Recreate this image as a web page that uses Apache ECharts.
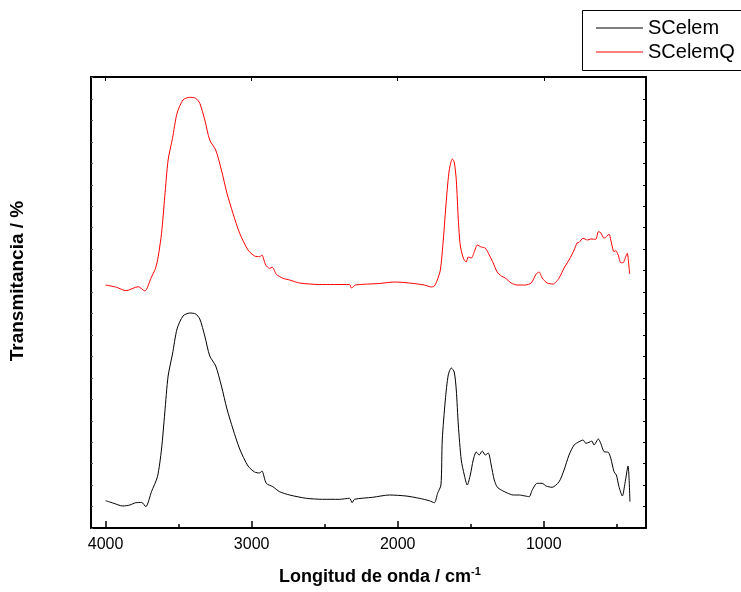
<!DOCTYPE html>
<html><head><meta charset="utf-8">
<script src="https://cdn.jsdelivr.net/npm/echarts@6/dist/echarts.min.js"></script>
<style>html,body{margin:0;padding:0;background:#fff;overflow:hidden}#c{width:741px;height:592px}</style>
</head><body><div id="c"></div>
<script>
const seriesNames = ['SCelem', 'SCelemQ'];
const majorTicks = [1000, 2000, 3000, 4000];
const minorTicks = [500, 1500, 2500, 3500];

const wnBlack = [4000,3950,3882,3834,3793,3752,3725,3686,3645,3617,3595,3572,3542,3511,3470,3424,3383,3355,3321,3287,3246,3207,3169,3128,3082,3025,2980,2945,2930,2900,2855,2809,2740,2626,2515,2399,2330,2312,2296,2171,2057,1943,1852,1784,1749,1727,1704,1695,1674,1654,1633,1613,1599,1585,1565,1544,1524,1503,1483,1462,1442,1421,1401,1380,1360,1339,1319,1291,1250,1209,1168,1127,1100,1079,1045,1011,984,943,895,861,827,792,758,731,712,690,671,656,626,610,587,558,541,519,503,485,462,444,423,410];
const valBlack = [27.3,25,22,23,25.3,25.5,21.3,36.3,51.3,79,115,152,174,199,212,215,214,209,192,172,162,142,119,99,79,62,56,55,57,44.7,41.3,36.3,33,29.7,28.7,28.7,29.7,25.3,28.7,30.7,33,32,29.7,27.3,25.3,34.7,43,88,128,153,160,156,138,103,68,53,43,53,68,76,73,77,73,75,63,48,41,38,35,33,33,32,31.3,38,44.7,44.7,42,40.7,46.3,58,73,83,86.3,88,84.7,85.7,87,83,89,84.7,76.3,75.7,69.7,56.3,53,41.3,32,44.7,62,26.3];

const wnRed = [4000,3925,3861,3777,3731,3690,3658,3640,3617,3595,3572,3542,3511,3470,3424,3383,3355,3321,3287,3246,3207,3169,3128,3082,3025,2980,2945,2930,2904,2877,2859,2831,2786,2740,2672,2535,2330,2317,2289,2125,2023,1920,1818,1770,1749,1729,1708,1688,1667,1647,1626,1613,1599,1585,1572,1551,1531,1517,1496,1476,1455,1428,1401,1373,1346,1319,1291,1264,1223,1182,1127,1086,1052,1032,1011,977,936,895,861,827,792,772,758,731,701,678,644,626,610,587,553,541,519,507,490,473,457,439,428,421,412];
const valRed = [243,240.7,237.3,241.3,237,249.7,259.7,271.3,294.7,331.3,368,389.7,414.7,428,430.7,429.7,424.7,408,388,378,358,334.7,314.7,294.7,278,272,271.3,273,263,259.7,260.7,253.7,249.7,248,245,243.5,243.5,240,243,244.5,246,245,243,241,242,248,258,288,328,358,369,366,348,308,283,270,266,271,270,276,283,281,280,273,265,256,252,250,245,243,243,245,254,256,250,245,244,250,260,268,278,285,285.7,289.7,288,289,288.7,296.3,295.3,289.7,293.7,288,276.3,277.3,273,265.3,265.3,271.3,274.7,268,254];

const pairs = (xs, ys) => xs.map((x, i) => [x, ys[i]]);
const chart = echarts.init(document.getElementById('c'), null, {renderer: 'canvas'});
const FONT = 'Liberation Sans, Arial, sans-serif';
const xBase = {type: 'value', min: 300, max: 4100, inverse: true, gridIndex: 0, splitLine: {show: false}};
const yBase = {type: 'value', min: 0, max: 451, interval: 21.45, splitLine: {show: false}, axisLabel: {show: false}};

chart.setOption({
  animation: false,
  grid: {left: 91, top: 77, width: 555, height: 451, containLabel: false},
  legend: {
    data: seriesNames.map(n => ({name: n, icon: 'rect'})), orient: 'vertical', left: 582, top: 10,
    padding: [7, 10, 8, 14], itemWidth: 47, itemHeight: 1, itemGap: 2,
    textStyle: {fontFamily: FONT, fontSize: 20, color: '#000', lineHeight: 22}
  },
  xAxis: [
    Object.assign({}, xBase, {position: 'bottom',
      axisLine: {show: true, onZero: false, lineStyle: {color: '#000', width: 2}},
      axisTick: {show: true, inside: true, length: 7, customValues: majorTicks, lineStyle: {color: '#000', width: 1.5}},
      axisLabel: {show: true, customValues: majorTicks, margin: 9, fontFamily: FONT, fontSize: 16, color: '#000', formatter: v => String(v)}}),
    Object.assign({}, xBase, {position: 'bottom',
      axisLine: {show: false, onZero: false},
      axisTick: {show: true, inside: true, length: 4, customValues: minorTicks, lineStyle: {color: '#000', width: 1.5}},
      axisLabel: {show: false}}),
    Object.assign({}, xBase, {position: 'top',
      axisLine: {show: true, onZero: false, lineStyle: {color: '#000', width: 2}},
      axisTick: {show: true, inside: true, length: 4, customValues: majorTicks, lineStyle: {color: '#000', width: 1}},
      axisLabel: {show: false}})
  ],
  yAxis: [
    Object.assign({}, yBase, {position: 'left',
      axisLine: {show: true, onZero: false, lineStyle: {color: '#000', width: 2}},
      axisTick: {show: true, inside: true, length: 2, lineStyle: {color: '#555', width: 1}}}),
    Object.assign({}, yBase, {position: 'right',
      axisLine: {show: true, onZero: false, lineStyle: {color: '#000', width: 2}},
      axisTick: {show: true, inside: true, length: 3, lineStyle: {color: '#000', width: 1}}})
  ],
  graphic: [
    {type: 'rect', z: -1, shape: {x: 582.5, y: 10.5, width: 200, height: 60},
      style: {fill: '#fff', stroke: '#000', lineWidth: 1}},
    {type: 'text', x: 18, y: 281, rotation: Math.PI / 2,
      style: {text: 'Transmitancia / %', fontFamily: FONT, fontSize: 19, fontWeight: 'bold', fill: '#000', textAlign: 'center', textVerticalAlign: 'middle'}},
    {type: 'text', x: 380, y: 577,
      style: {text: '{a|Longitud de onda / cm}{s|-1}', textAlign: 'center', textVerticalAlign: 'middle',
        rich: {a: {fontFamily: FONT, fontSize: 18, fontWeight: 'bold', fill: '#000', color: '#000'},
               s: {fontFamily: FONT, fontSize: 11, fontWeight: 'bold', fill: '#000', color: '#000', verticalAlign: 'top', padding: [0, 0, 11, 0]}}}}
  ],
  series: [
    {name: seriesNames[0], type: 'line', xAxisIndex: 0, yAxisIndex: 0, data: pairs(wnBlack, valBlack),
      symbol: 'none', showSymbol: false, smooth: 0.25, lineStyle: {color: '#000', width: 1}, itemStyle: {color: '#000'}},
    {name: seriesNames[1], type: 'line', xAxisIndex: 0, yAxisIndex: 0, data: pairs(wnRed, valRed),
      symbol: 'none', showSymbol: false, smooth: 0.25, lineStyle: {color: '#ff0000', width: 1}, itemStyle: {color: '#ff0000'}}
  ]
});
</script></body></html>
